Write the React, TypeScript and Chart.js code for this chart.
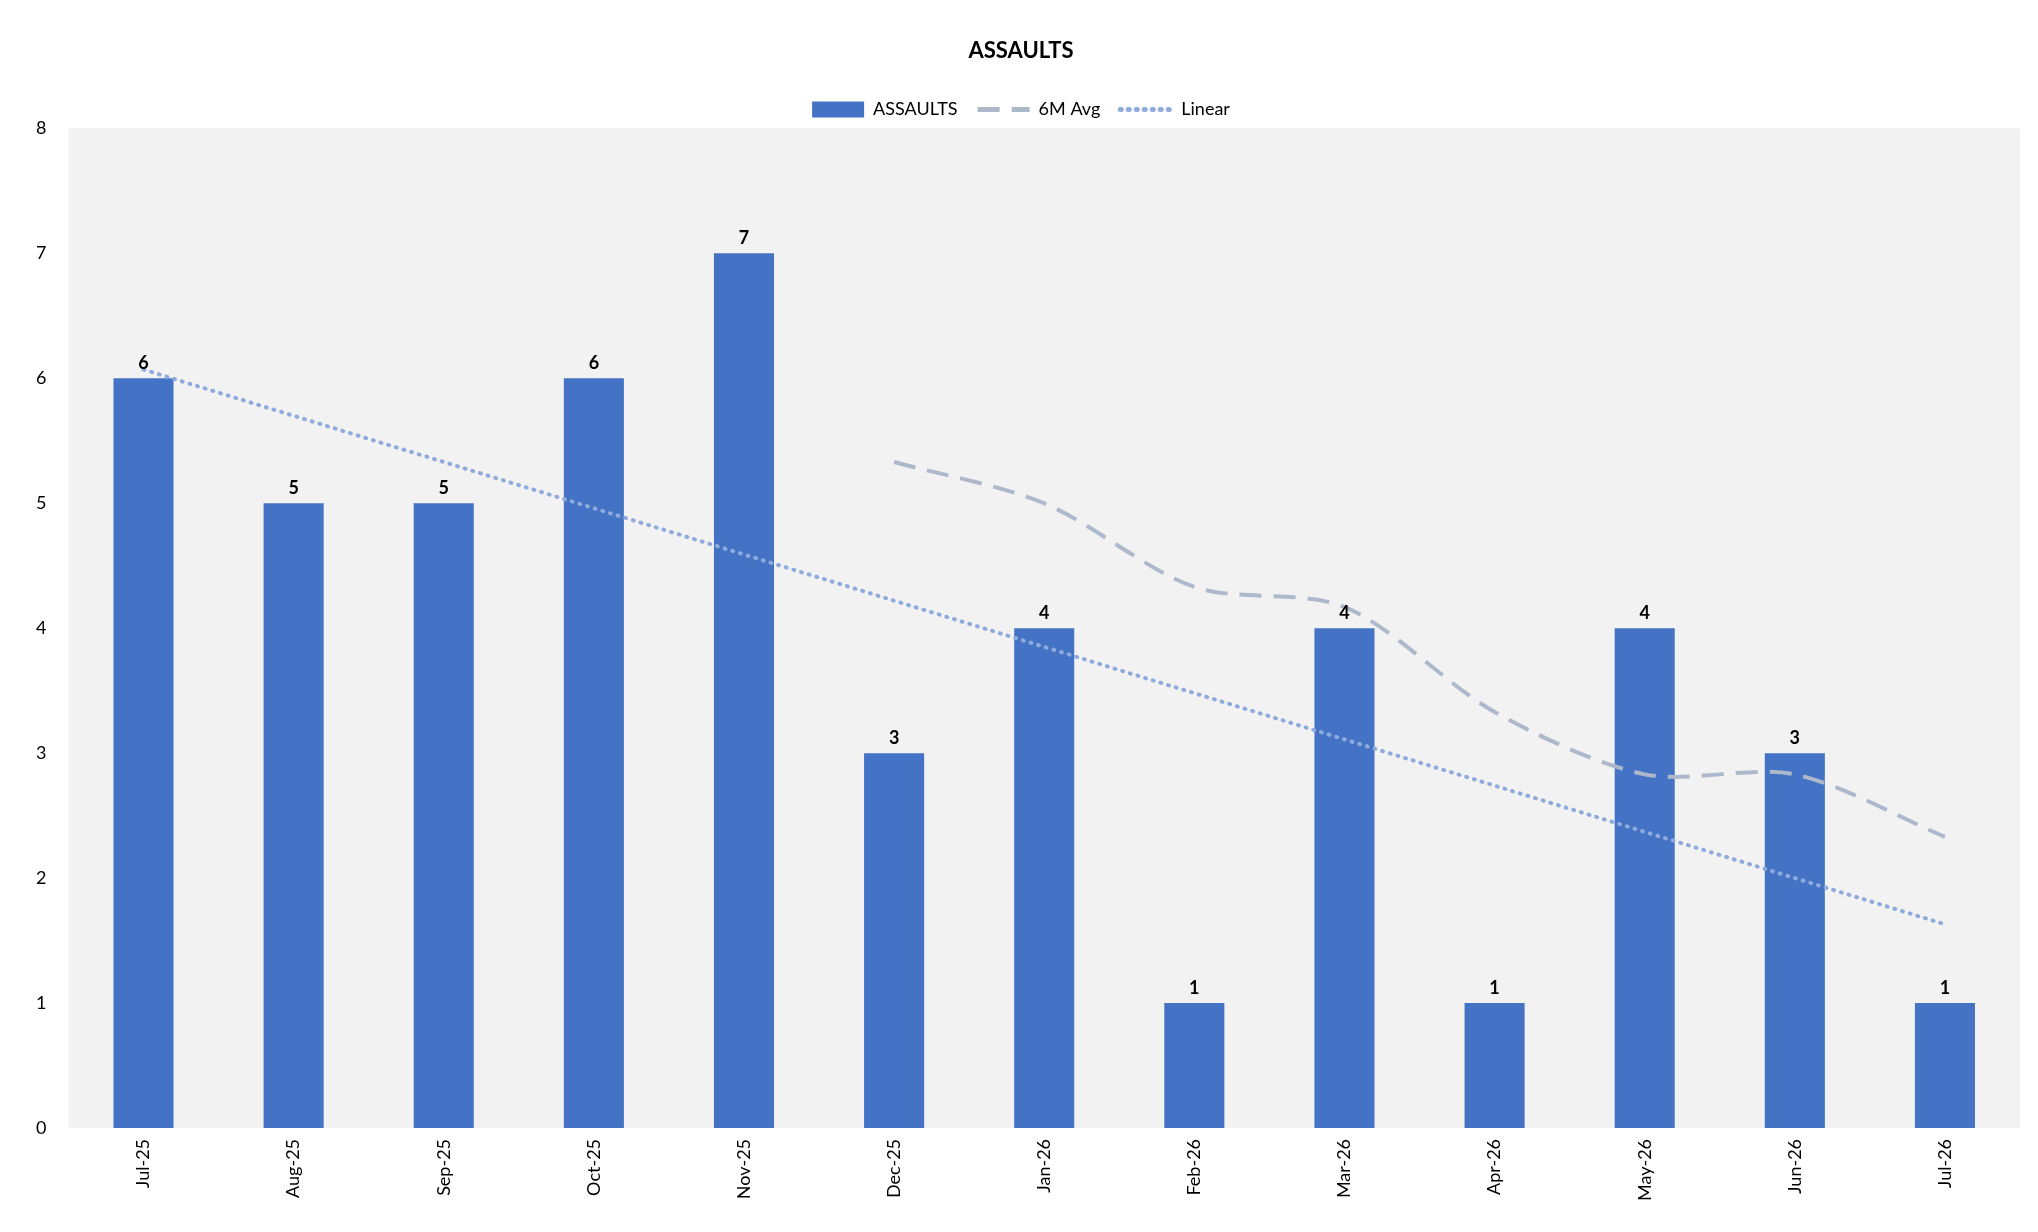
import React, { useEffect, useRef } from "react";
import { Chart, registerables } from "chart.js";
Chart.register(...registerables);

const categories = ["Jul-25","Aug-25","Sep-25","Oct-25","Nov-25","Dec-25","Jan-26","Feb-26","Mar-26","Apr-26","May-26","Jun-26","Jul-26"];
const assaults = [6,5,5,6,7,3,4,1,4,1,4,3,1];
const linear = [6.07,5.70,5.33,4.96,4.59,4.22,3.85,3.48,3.11,2.74,2.37,2.00,1.63];
const avg6m = [null,null,null,null,null,5.33,5.0,4.33,4.17,3.33,2.83,2.83,2.33];
const yTicks = [0,1,2,3,4,5,6,7,8];

const FONT = "Lato, 'Open Sans', sans-serif";

const bgPlugin = {
  id: "bg",
  beforeDraw(chart: any) {
    const { ctx, chartArea: a } = chart;
    ctx.save();
    ctx.fillStyle = "#F2F2F2";
    ctx.fillRect(a.left, a.top, a.right - a.left, a.bottom - a.top);
    ctx.restore();
  },
};
const labelPlugin = {
  id: "lbl",
  afterDatasetsDraw(chart: any) {
    const { ctx } = chart;
    const meta = chart.getDatasetMeta(2);
    ctx.save();
    ctx.font = `bold 18px ${FONT}`;
    ctx.fillStyle = "#000";
    ctx.textAlign = "center";
    ctx.textBaseline = "bottom";
    meta.data.forEach((el: any, i: number) => {
      ctx.fillText(String(assaults[i]), el.x, el.y - 6);
    });
    ctx.restore();
  },
};

export default function App() {
  const ref = useRef<HTMLCanvasElement>(null);
  useEffect(() => {
    const chart = new Chart(ref.current!, {
      type: "bar",
      data: {
        labels: categories,
        datasets: [
          { type: "line", label: "Linear", data: linear, borderColor: "#8FAADC", backgroundColor: "#8FAADC", borderWidth: 4, borderDash: [1, 7], borderCapStyle: "round", pointRadius: 0, order: 0 } as any,
          { type: "line", label: "6M Avg", data: avg6m, borderColor: "#ADB9CA", backgroundColor: "#ADB9CA", borderWidth: 4, borderDash: [22, 12], tension: 0.3, pointRadius: 0, order: 1 } as any,
          { type: "bar", label: "ASSAULTS", data: assaults, backgroundColor: "#4472C4", barPercentage: 0.4, categoryPercentage: 1, order: 2 },
        ],
      },
      options: {
        animation: false,
        responsive: true,
        maintainAspectRatio: false,
        layout: { padding: { left: 14, right: 10, top: 10, bottom: 20 } },
        plugins: {
          title: { display: true, text: "ASSAULTS", color: "#000", font: { family: FONT, size: 22, weight: "bold" }, padding: { top: 20, bottom: 16 } },
          legend: {
            position: "top",
            labels: {
              color: "#000",
              font: { family: FONT, size: 18 },
              usePointStyle: true,
              pointStyleWidth: 52,
              boxHeight: 16,
              padding: 20,
              sort: (a: any, b: any) => b.datasetIndex - a.datasetIndex,
              generateLabels: (chart: any) =>
                chart.data.datasets.map((d: any, i: number) => ({
                  text: d.label,
                  datasetIndex: i,
                  fillStyle: d.backgroundColor,
                  strokeStyle: d.type === "bar" ? "transparent" : d.borderColor,
                  lineWidth: d.type === "bar" ? 0 : 5,
                  lineDash: d.borderDash || [],
                  lineCap: d.borderCapStyle || "butt",
                  pointStyle: d.type === "bar" ? "rect" : "line",
                  fontColor: "#000",
                  hidden: false,
                })),
            },
          },
          tooltip: { enabled: false },
        },
        scales: {
          x: {
            grid: { display: false },
            border: { display: false },
            ticks: { color: "#000", font: { family: FONT, size: 18 }, minRotation: 90, maxRotation: 90 },
          },
          y: {
            min: 0,
            max: 8,
            afterBuildTicks: (s: any) => { s.ticks = yTicks.map((v) => ({ value: v })); },
            grid: { display: false },
            border: { display: false },
            ticks: { color: "#000", font: { family: FONT, size: 18 }, padding: 14 },
          },
        },
      },
      plugins: [bgPlugin, labelPlugin],
    });
    return () => chart.destroy();
  }, []);
  return (
    <div style={{ width: 2022, height: 1216 }}>
      <canvas ref={ref} />
    </div>
  );
}
